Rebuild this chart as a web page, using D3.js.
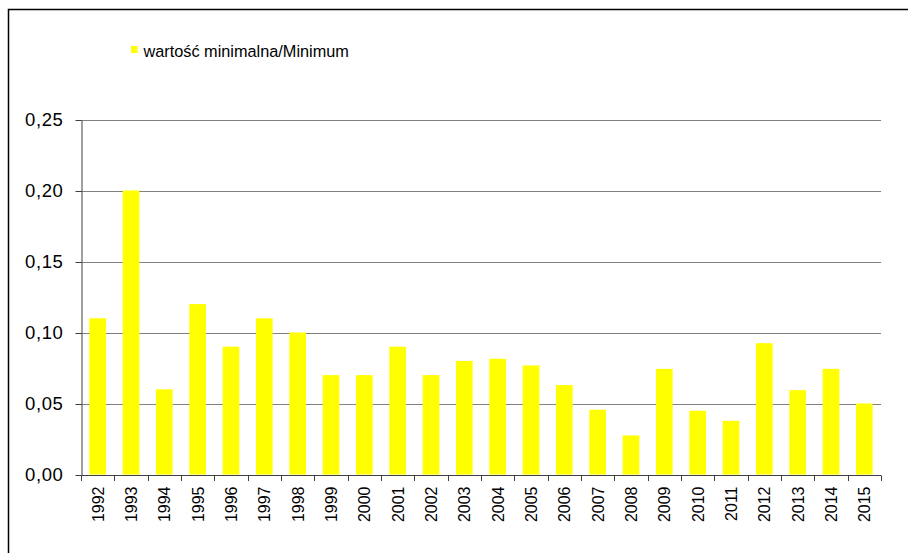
<!DOCTYPE html>
<html>
<head>
<meta charset="utf-8">
<script src="https://cdn.jsdelivr.net/npm/d3@7"></script>
<style>
  html, body { margin: 0; padding: 0; background: #fff; }
  svg { display: block; font-family: "Liberation Sans", Arial, sans-serif; }
</style>
</head>
<body>
<svg id="chart" width="908" height="553"></svg>
<script>
const years = ["1992","1993","1994","1995","1996","1997","1998","1999","2000","2001","2002","2003","2004","2005","2006","2007","2008","2009","2010","2011","2012","2013","2014","2015"];
const minimum = [0.11,0.20,0.06,0.12,0.09,0.11,0.10,0.07,0.07,0.09,0.07,0.08,0.0815,0.0768,0.063,0.0456,0.0275,0.0744,0.0449,0.0378,0.0925,0.0594,0.0744,0.05];
const yTicks = [0, 0.05, 0.10, 0.15, 0.20, 0.25];
const legendLabel = "wartość minimalna/Minimum";

const svg = d3.select("#chart");
const plotLeft = 81, plotRight = 881, plotTop = 119.5, plotBottom = 474.5;

const locale = d3.formatLocale({decimal: ",", thousands: " ", grouping: [3], currency: ["", ""]});
const fmt = locale.format(".2f");

const x = d3.scaleBand().domain(years).range([plotLeft, plotRight]).paddingInner(0.5).paddingOuter(0.25);
const y = d3.scaleLinear().domain([0, 0.25]).range([plotBottom, plotTop]);

// frame
svg.append("path").attr("d", `M8.5,553 L8.5,9.5 L908,9.5`).attr("fill", "none").attr("stroke", "#000").attr("stroke-width", 1.5);

// gridlines
svg.append("g").selectAll("line").data(yTicks.filter(d => d > 0)).join("line")
  .attr("x1", plotLeft).attr("x2", plotRight)
  .attr("y1", d => Math.round(y(d)) + 0.5).attr("y2", d => Math.round(y(d)) + 0.5)
  .attr("stroke", "#808080").attr("stroke-width", 1);

// bars
svg.append("g").selectAll("rect").data(years).join("rect")
  .attr("x", d => x(d))
  .attr("width", x.bandwidth())
  .attr("y", (d, i) => y(minimum[i]))
  .attr("height", (d, i) => y(0) - y(minimum[i]))
  .attr("fill", "#ffff00");

// y axis
const yAxis = svg.append("g").attr("transform", `translate(${plotLeft + 0.5},0.5)`)
  .call(d3.axisLeft(y).tickValues(yTicks).tickFormat(fmt).tickSize(6).tickSizeOuter(0).tickPadding(12));
yAxis.select(".domain").attr("stroke", "#404040");
yAxis.selectAll(".tick line").attr("stroke", "#404040");
yAxis.selectAll("text").attr("font-size", "18.5px").attr("letter-spacing", "0.6px").attr("fill", "#000").attr("font-family", "Liberation Sans, Arial, sans-serif");

// x axis line
svg.append("line").attr("x1", plotLeft).attr("x2", plotRight)
  .attr("y1", Math.round(y(0)) + 0.5).attr("y2", Math.round(y(0)) + 0.5)
  .attr("stroke", "#404040");

// x tick marks at band boundaries
const bounds = d3.range(years.length + 1).map(i => plotLeft + i * x.step());
svg.append("g").selectAll("line").data(bounds).join("line")
  .attr("x1", d => Math.round(d) + 0.5).attr("x2", d => Math.round(d) + 0.5)
  .attr("y1", Math.round(y(0)) + 0.5).attr("y2", Math.round(y(0)) + 6)
  .attr("stroke", "#404040");

// x labels
svg.append("g").selectAll("text").data(years).join("text")
  .attr("transform", d => `translate(${x(d) + x.bandwidth() / 2 + 6},${plotBottom + 12}) rotate(-90)`)
  .attr("text-anchor", "end")
  .attr("font-size", "16px")
  .attr("fill", "#000")
  .text(d => d);

// legend
svg.append("rect").attr("x", 131).attr("y", 46).attr("width", 6.5).attr("height", 7).attr("fill", "#ffff00");
svg.append("text").attr("x", 143.5).attr("y", 56.5).attr("font-size", "16.3px").attr("fill", "#000").text(legendLabel);
</script>
</body>
</html>
